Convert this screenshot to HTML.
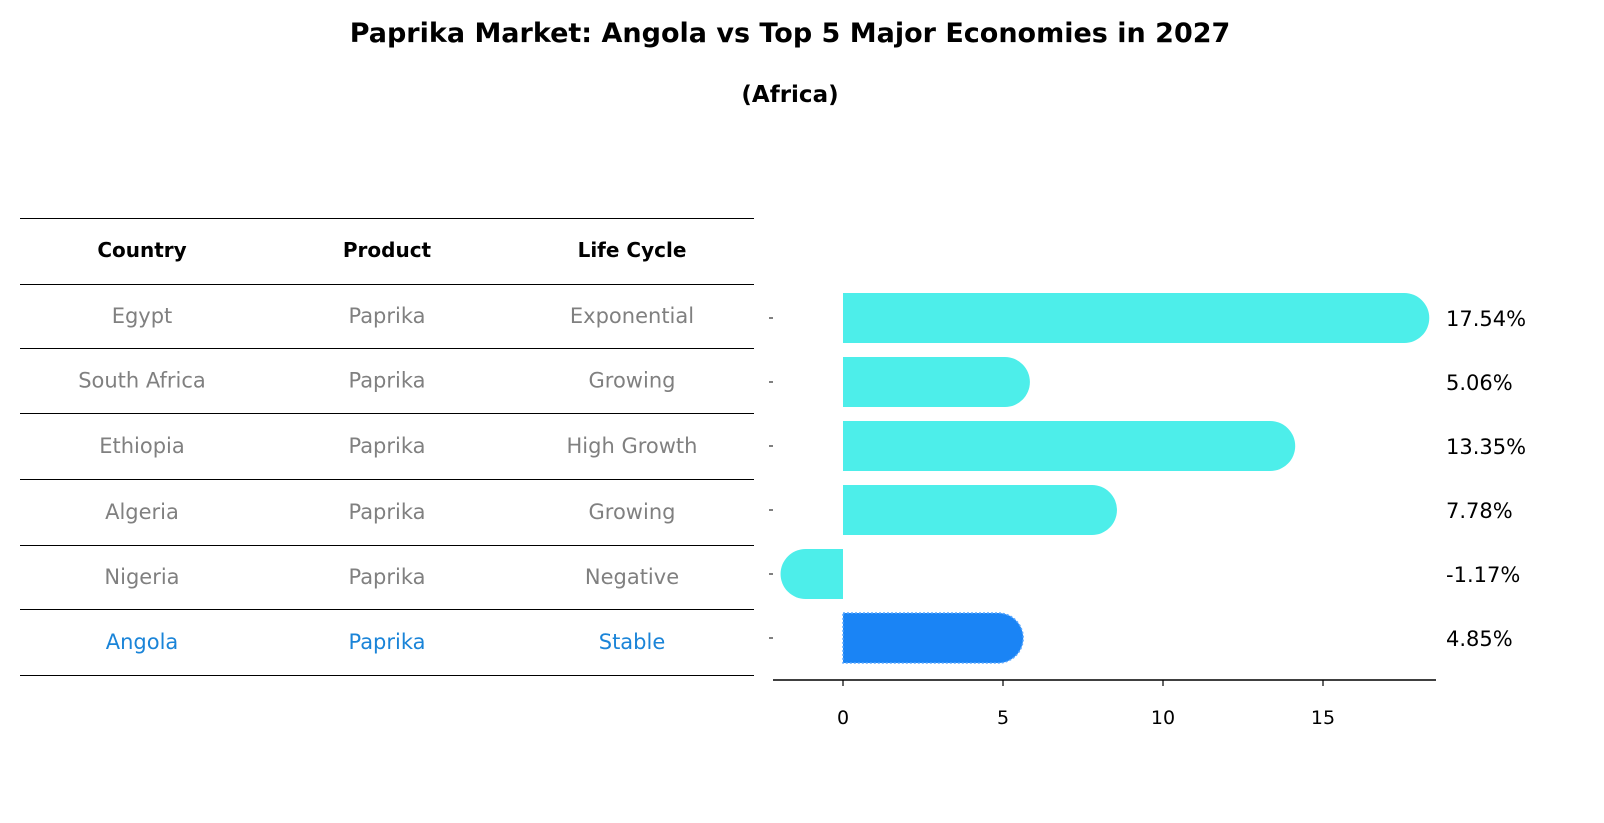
<!DOCTYPE html>
<html><head><meta charset="utf-8"><style>
body{margin:0;background:#fff;font-family:"DejaVu Sans","Liberation Sans",sans-serif;}
#wrap{position:relative;width:1604px;height:823px;overflow:hidden;}
.t{position:absolute;white-space:nowrap;}
text{font-family:"DejaVu Sans","Liberation Sans",sans-serif;}
</style></head><body>
<div id="wrap">
<div class="t" style="left:0;width:1580px;text-align:center;top:18px;font-size:27px;font-weight:bold;">Paprika Market: Angola vs Top 5 Major Economies in 2027</div>
<div class="t" style="left:0;width:1580px;text-align:center;top:82px;font-size:23px;font-weight:bold;">(Africa)</div>
<svg id="svg" width="1604" height="823" style="position:absolute;left:0;top:0"></svg>
</div>
<script>
const countries=["Egypt","South Africa","Ethiopia","Algeria","Nigeria","Angola"];
const products=["Paprika","Paprika","Paprika","Paprika","Paprika","Paprika"];
const lifeCycles=["Exponential","Growing","High Growth","Growing","Negative","Stable"];
const growth=[17.54,5.06,13.35,7.78,-1.17,4.85];
const xTicks=[0,5,10,15];

const NS="http://www.w3.org/2000/svg";
const svg=document.getElementById('svg');
function mk(tag,attrs,parent){const e=document.createElementNS(NS,tag);for(const k in attrs)e.setAttribute(k,attrs[k]);(parent||svg).appendChild(e);return e;}
const x=v=>843+v*32;
const rowY=i=>318+i*64;
const tableLines=[218,284,348,413,479,545,609,675];
const colX=[142,387,632];

tableLines.forEach((ly,i)=>{
  const l=mk('line',{x1:20,x2:754,y1:ly+0.5,y2:ly+0.5,stroke:'#000','stroke-width':1,'shape-rendering':'crispEdges'});
  
  
});
["Country","Product","Life Cycle"].forEach((h,j)=>{
  const t=mk('text',{x:colX[j],y:257,'text-anchor':'middle','font-size':20,'font-weight':'bold',fill:'#000'});
  t.textContent=h;
  
  
});
countries.forEach((c,i)=>{
  const cy=(tableLines[i+1]+tableLines[i+2])/2+7;
  const col=c==="Angola"?'#1a84d8':'#808080';
  [c,products[i],lifeCycles[i]].forEach((v,j)=>{
    const t=mk('text',{x:colX[j],y:cy,'text-anchor':'middle','font-size':21,fill:col});
    t.textContent=v;
    
    
  });
});

const H=50,R=25;
growth.forEach((v,i)=>{
  const cy=rowY(i), top=cy-H/2, x0=x(0), xv=x(v);
  const ang=countries[i]==="Angola";
  let d;
  if(v>=0) d=`M${x0},${top} H${xv} A${R},${R} 0 0 1 ${xv},${top+H} H${x0} Z`;
  else d=`M${x0},${top} H${xv} A${R},${R} 0 0 0 ${xv},${top+H} H${x0} Z`;
  const p=mk('path',{d:d,fill:ang?'#1a84f5':'#4deeea',stroke:ang?'#5aa8ff':'none','stroke-dasharray':ang?'2,2':'','stroke-width':ang?1.5:0});
  
  
  const t=mk('text',{x:1446,y:cy+8,'font-size':21,fill:'#000'});
  t.textContent=v.toFixed(2)+'%';
  
  
  const tk=mk('line',{x1:769,x2:773,y1:cy,y2:cy,stroke:'#000','stroke-width':1});
  
  
});

const ax=mk('line',{x1:773,x2:1436,y1:680,y2:680,stroke:'#000','stroke-width':1.5});


xTicks.forEach(v=>{
  const l=mk('line',{x1:x(v),x2:x(v),y1:680,y2:686,stroke:'#000','stroke-width':1.2});
  
  
  const t=mk('text',{x:x(v),y:724,'text-anchor':'middle','font-size':19,fill:'#000'});
  t.textContent=v;
  
  
});
</script>
</body></html>
